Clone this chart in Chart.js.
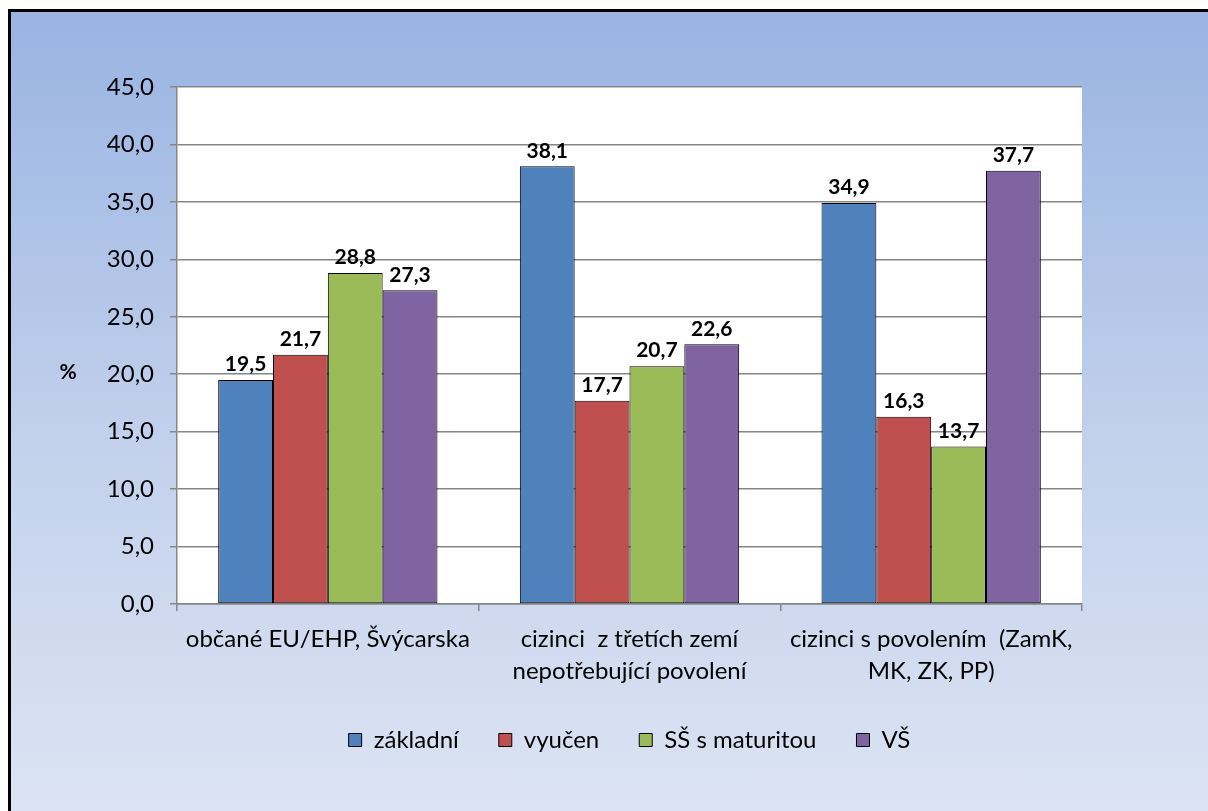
<!DOCTYPE html>
<html>
<head>
<meta charset="utf-8">
<script src="https://cdn.jsdelivr.net/npm/chart.js@4/dist/chart.umd.min.js"></script>
<style>
  html, body { margin: 0; padding: 0; background: #fff; }
  body { width: 1208px; height: 811px; overflow: hidden; position: relative; }
  #box {
    position: absolute; left: 8px; top: 9px; width: 1200px; height: 802px;
    border-left: 3px solid #000; border-top: 3px solid #000;
    background: linear-gradient(to bottom, #99b4e2 0%, #c3d1ec 55%, #dce4f3 100%);
  }
  canvas { display: block; }
</style>
</head>
<body>
<div id="box"><canvas id="graf" width="1197" height="799"></canvas></div>
<script>
// kategorie a hodnoty (%)
const kategorie = [
  "občané EU/EHP, Švýcarska",
  ["cizinci  z třetích zemí", "nepotřebující povolení"],
  ["cizinci s povolením  (ZamK,", "MK, ZK, PP)"]
];
const zakladni = [19.5, 38.1, 34.9];
const vyucen   = [21.7, 17.7, 16.3];
const maturita = [28.8, 20.7, 13.7];
const vs       = [27.3, 22.6, 37.7];

const pismo = "Lato, 'Noto Sans', sans-serif";
const carka = v => v.toFixed(1).replace(".", ",");

// bílá plocha grafu
const plocha = {
  id: "plocha",
  beforeDraw(chart) {
    const a = chart.chartArea, c = chart.ctx;
    c.save();
    c.fillStyle = "#fff";
    c.fillRect(a.left, a.top, a.right - a.left, a.bottom - a.top);
    c.restore();
  }
};

// popisky hodnot nad sloupci + znak %
const popisky = {
  id: "popisky",
  afterDatasetsDraw(chart) {
    const c = chart.ctx;
    c.save();
    c.fillStyle = "#000";
    c.textAlign = "center";
    c.textBaseline = "bottom";
    c.font = "bold 21px " + pismo;
    chart.data.datasets.forEach((ds, i) => {
      chart.getDatasetMeta(i).data.forEach((el, j) => {
        c.fillText(carka(ds.data[j]), el.x, el.y - 5);
      });
    });
    const a = chart.chartArea;
    c.font = "bold 21px " + pismo;
    c.textBaseline = "middle";
    c.fillText("%", 57, a.top + (a.bottom - a.top) * 0.552);
    c.restore();
  }
};

new Chart(document.getElementById("graf"), {
  type: "bar",
  data: {
    labels: kategorie,
    datasets: [
      { label: "základní", data: zakladni, backgroundColor: "#4f81bd" },
      { label: "vyučen", data: vyucen, backgroundColor: "#c0504d" },
      { label: "SŠ s maturitou", data: maturita, backgroundColor: "#9bbb59" },
      { label: "VŠ", data: vs, backgroundColor: "#8064a2" }
    ].map(d => Object.assign(d, { borderColor: "#000", borderWidth: 1, borderSkipped: false }))
  },
  options: {
    responsive: false,
    devicePixelRatio: 1,
    animation: false,
    datasets: { bar: { categoryPercentage: 0.727, barPercentage: 1 } },
    layout: { padding: { top: 75, right: 126, bottom: 49, left: 0 } },
    scales: {
      y: {
        min: 0, max: 45,
        ticks: { stepSize: 5, callback: v => carka(v), color: "#000", padding: 16, font: { family: pismo, size: 24 } },
        grid: { color: "#868686", lineWidth: 1.5, tickLength: 7 },
        border: { color: "#868686", width: 1.5 },
        afterFit(s) { s.width = 166; }
      },
      x: {
        ticks: { color: "#000", padding: 12, maxRotation: 0, autoSkip: false, font: { family: pismo, size: 24, lineHeight: 1.35 } },
        grid: { drawOnChartArea: false, color: "#868686", lineWidth: 1.5, tickLength: 7 },
        border: { color: "#868686", width: 1.5 },
        afterFit(s) { s.height = 84; }
      }
    },
    plugins: {
      legend: {
        position: "bottom",
        fullSize: false,
        labels: { boxWidth: 13, boxHeight: 13, padding: 40, color: "#000", font: { family: pismo, size: 24 } }
      },
      tooltip: { enabled: false }
    }
  },
  plugins: [plocha, popisky]
});
</script>
</body>
</html>
